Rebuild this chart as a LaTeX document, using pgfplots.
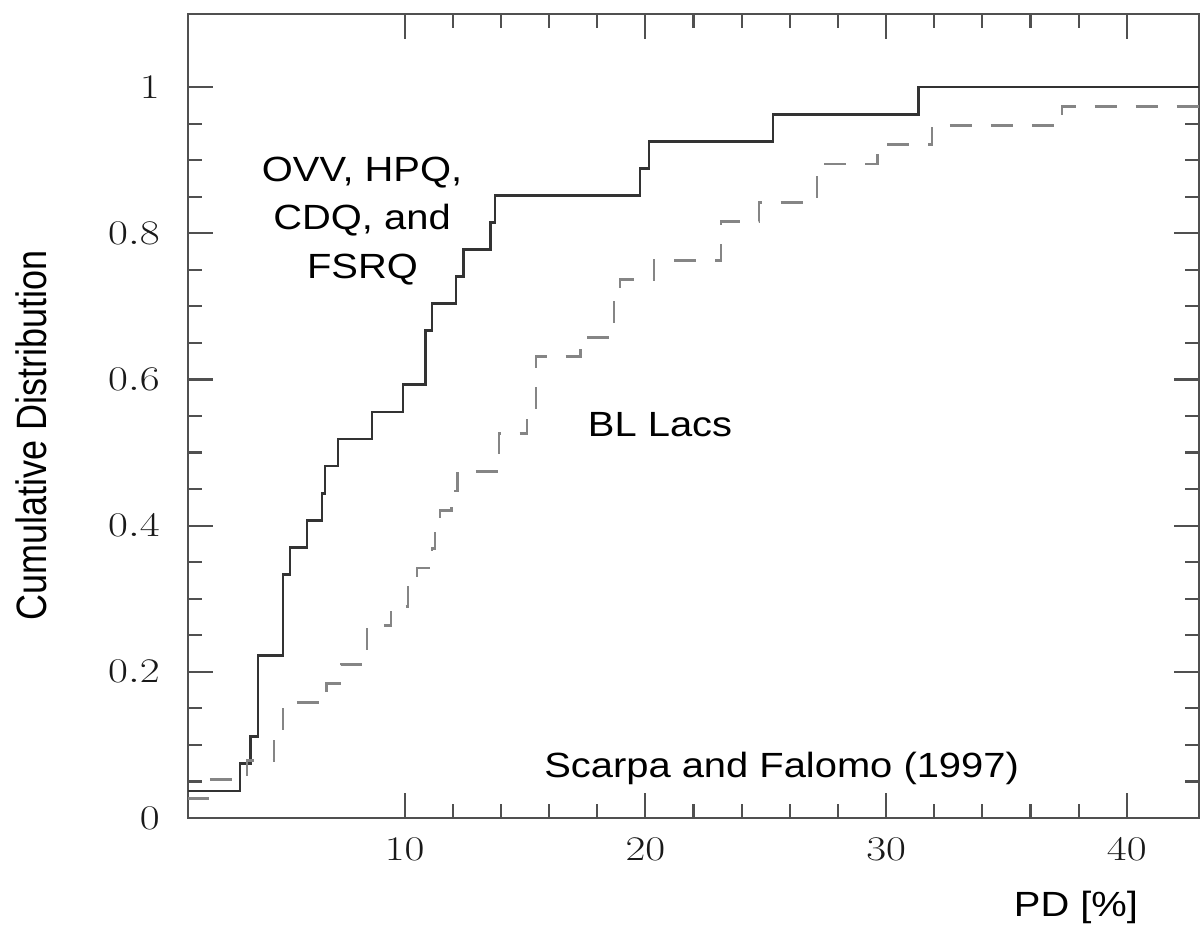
\documentclass[border=0pt]{standalone}
\usepackage{fontspec}
\usepackage{graphicx}
\usepackage{pgfplots}
\pgfplotsset{compat=1.18}
\newfontfamily\lab[FakeStretch=1.14]{Liberation Sans}
\newfontfamily\labplain{Liberation Sans}
\definecolor{axgray}{HTML}{505050}
\definecolor{solidc}{HTML}{333333}
\definecolor{dashc}{HTML}{858585}
\begin{document}
\begin{tikzpicture}
\begin{axis}[
  scale only axis, width=505.5pt, height=402pt,
  xmin=1, xmax=43, ymin=0, ymax=1.1,
  xtick={10,20,30,40}, ytick={0,0.2,0.4,0.6,0.8,1},
  minor x tick num=4, minor y tick num=3,
  tick align=inside,
  major tick length=12.5pt, minor tick length=7pt,
  axis line style={axgray, line width=1.1pt},
  tick style={axgray, line width=1.1pt},
  xticklabel={\scalebox{1.25}[1]{\pgfmathprintnumber{\tick}}},
  yticklabel={\scalebox{1.25}[1]{\pgfmathprintnumber{\tick}}},
  tick label style={font=\fontsize{17}{17}\selectfont, text=black!90},
  xticklabel style={anchor=north, inner sep=0pt, yshift=-10pt},
  yticklabel style={anchor=east, inner sep=0pt, xshift=-14pt},
  clip=false,
]
% OVV, HPQ, CDQ and FSRQ (N = 27)
\addplot[const plot, solidc, line width=1.4pt] table {
x y
1 0.0370
3.16 0.0741
3.58 0.1111
3.91 0.2222
4.95 0.3333
5.24 0.3704
5.94 0.4074
6.57 0.4444
6.69 0.4815
7.23 0.5185
8.64 0.5556
9.93 0.5926
10.85 0.6667
11.14 0.7037
12.13 0.7407
12.43 0.7778
13.55 0.8148
13.75 0.8519
19.78 0.8889
20.15 0.9259
25.30 0.9630
31.33 1.0000
43 1.0000
};
% BL Lacs (N = 38)
\addplot[const plot, dashc, line width=1.4pt, dash pattern=on 11pt off 9.5pt] table {
x y
1 0.0263
1.83 0.0526
3.45 0.0789
4.57 0.1053
4.95 0.1579
6.77 0.1842
7.36 0.2105
8.44 0.2632
9.43 0.2895
10.14 0.3158
10.51 0.3421
11.14 0.3684
11.26 0.3947
11.47 0.4211
11.93 0.4474
12.18 0.4737
13.92 0.5263
15.08 0.5526
15.46 0.6316
17.29 0.6579
18.70 0.7105
18.95 0.7368
20.36 0.7632
23.14 0.8158
24.72 0.8421
27.13 0.8947
29.63 0.9211
31.91 0.9474
37.31 0.9737
43 0.9737
};
\node[anchor=base, font=\lab\fontsize{17.5}{17.5}\selectfont] at (axis cs:8.23,0.8702) {OVV, HPQ,};
\node[anchor=base, font=\lab\fontsize{17.5}{17.5}\selectfont] at (axis cs:8.23,0.8045) {CDQ, and};
\node[anchor=base, font=\lab\fontsize{17.5}{17.5}\selectfont] at (axis cs:8.25,0.7388) {FSRQ};
\node[anchor=base, font=\lab\fontsize{17.5}{17.5}\selectfont] at (axis cs:20.61,0.5226) {BL Lacs};
\node[anchor=base, font=\lab\fontsize{17.5}{17.5}\selectfont] at (axis cs:25.66,0.0561) {Scarpa and Falomo (1997)};
\node[anchor=base, font=\lab\fontsize{17.5}{17.5}\selectfont] at (axis cs:37.89,-0.1354) {PD [\%]};
\node[anchor=base, rotate=90, font=\labplain\fontsize{18}{18}\selectfont] at (axis cs:-4.86,0.524) {\scalebox{1}[1.18]{Cumulative Distribution}};
\coordinate (sw) at (rel axis cs:0,0);
\coordinate (ne) at (rel axis cs:1,1);
\end{axis}
\pgfresetboundingbox
\path ([shift={(-94pt,-54.5pt)}]sw) rectangle ([shift={(1pt,7pt)}]ne);
\end{tikzpicture}
\end{document}
